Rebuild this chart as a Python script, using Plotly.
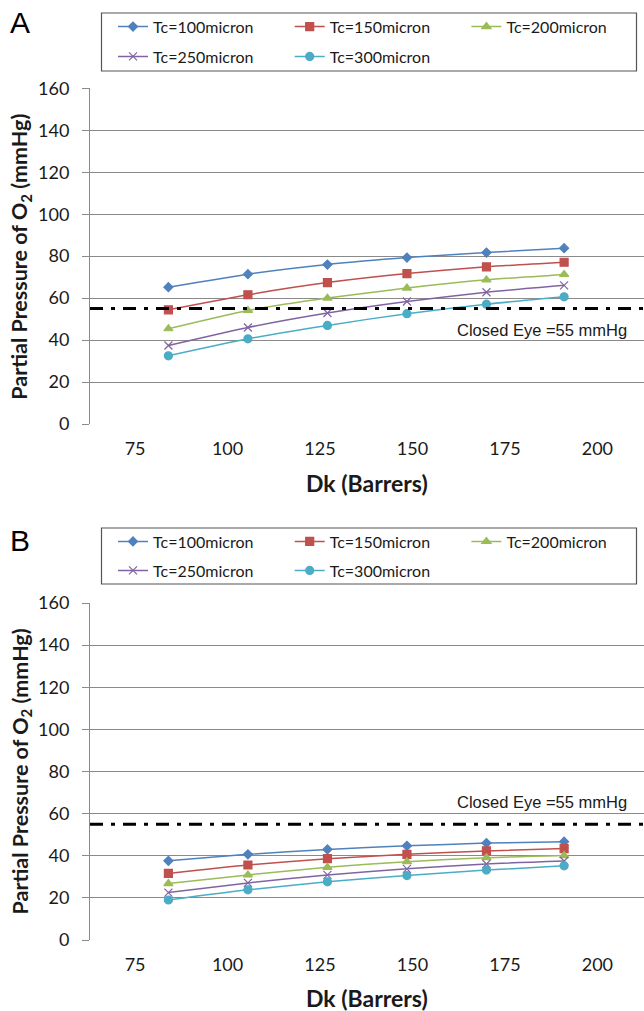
import plotly.graph_objects as go

dk = [84, 105.5, 127, 148.5, 170, 191]
names = ["Tc=100micron", "Tc=150micron", "Tc=200micron", "Tc=250micron", "Tc=300micron"]
colors = ["#4F81BD", "#C0504D", "#9BBB59", "#8064A2", "#4BACC6"]
symbols = ["diamond", "square", "triangle-up", "x-thin-open", "circle"]
sizes = [7, 8, 8, 8, 8]

po2_a = [
    [65.2, 71.4, 76.0, 79.3, 81.7, 83.8],
    [54.4, 61.6, 67.4, 71.7, 74.9, 77.1],
    [45.4, 54.1, 60.0, 64.8, 68.7, 71.3],
    [37.4, 46.0, 52.9, 58.4, 62.8, 66.1],
    [32.5, 40.6, 47.0, 52.6, 57.1, 60.6],
]
po2_b = [
    [37.6, 40.7, 43.0, 44.7, 46.0, 46.7],
    [31.6, 35.6, 38.6, 40.7, 42.3, 43.4],
    [26.8, 30.9, 34.5, 37.2, 39.1, 40.1],
    [22.5, 27.1, 30.9, 33.8, 36.1, 37.5],
    [19.0, 23.8, 27.6, 30.6, 33.2, 35.2],
]
closed_eye = 55
yticks = [0, 20, 40, 60, 80, 100, 120, 140, 160]
xticks = [75, 100, 125, 150, 175, 200]
xrange_ = [62.8, 212.6]

W, H = 644, 1011
def px(y):
    return 1 - y / H

FONT = "Lato"
fig = go.Figure()

# legend entry grid (px): columns and rows for each panel
leg_cols = [113, 289.7, 466.4, 113, 289.7]
leg_rows_a = [26.7, 26.7, 26.7, 56.5, 56.5]
leg_rows_b = [541.5, 541.5, 541.5, 570.5, 570.5]

legend_layout = {}
k = 0
for p, (data, xa, ya, rows) in enumerate([(po2_a, "x", "y", leg_rows_a), (po2_b, "x2", "y2", leg_rows_b)]):
    for i, vals in enumerate(data):
        k += 1
        lid = "legend" if k == 1 else "legend%d" % k
        legend_layout[lid] = dict(x=leg_cols[i] / W, xanchor="left", y=px(rows[i]), yanchor="middle",
                                  orientation="h", itemwidth=30, bgcolor="rgba(0,0,0,0)",
                                  font=dict(family=FONT, size=16, color="#1a1a1a"))
        fig.add_trace(go.Scatter(
            x=dk, y=vals, name=names[i], mode="lines+markers",
            line=dict(color=colors[i], width=1.5, shape="spline", smoothing=0.6),
            marker=dict(symbol=symbols[i], size=sizes[i], color=colors[i],
                        line=dict(color=colors[i], width=1.2)),
            xaxis=xa, yaxis=ya, legend=lid,
        ))
    fig.add_trace(go.Scatter(
        x=xrange_, y=[closed_eye, closed_eye], mode="lines",
        line=dict(color="black", width=3, dash="13px,8px,4px,8px"),
        xaxis=xa, yaxis=ya, showlegend=False, hoverinfo="skip",
    ))

axis_common_y = dict(range=[0, 160], tickvals=yticks, showgrid=True, gridcolor="#8a8a8a", gridwidth=1,
                     showline=True, linecolor="#8a8a8a", linewidth=1, ticks="outside", ticklen=7,
                     tickcolor="#8a8a8a", zeroline=False, ticklabelstandoff=9,
                     tickfont=dict(family=FONT, size=18, color="#1a1a1a"))
axis_common_x = dict(range=xrange_, tickvals=xticks, showgrid=False, showline=False, zeroline=False,
                     ticks="", ticklabelstandoff=12,
                     tickfont=dict(family=FONT, size=18, color="#1a1a1a"))

fig.update_layout(
    width=W, height=H, margin=dict(l=0, r=0, t=0, b=0, autoexpand=False),
    paper_bgcolor="white", plot_bgcolor="white",
    xaxis=dict(domain=[90 / W, 1], anchor="y", **axis_common_x),
    yaxis=dict(domain=[px(424), px(88.3)], anchor="x", **axis_common_y),
    xaxis2=dict(domain=[90 / W, 1], anchor="y2", **axis_common_x),
    yaxis2=dict(domain=[px(940), px(603)], anchor="x2", **axis_common_y),
    showlegend=True,
    **legend_layout,
)

shapes = []
for y0, y1 in [(13, 71), (528, 584)]:
    shapes.append(dict(type="rect", xref="paper", yref="paper", x0=101.5 / W, x1=636.5 / W,
                       y0=px(y1), y1=px(y0), line=dict(color="#555555", width=1.2)))
fig.update_layout(shapes=shapes)

ann = []
ann.append(dict(text="A", x=20 / W, y=px(22), xref="paper", yref="paper", xanchor="center", yanchor="middle",
                showarrow=False, font=dict(family="Liberation Sans", size=30, color="black")))
ann.append(dict(text="B", x=20 / W, y=px(540), xref="paper", yref="paper", xanchor="center", yanchor="middle",
                showarrow=False, font=dict(family="Liberation Sans", size=30, color="black")))
ytitle = "Partial Pressure of O<sub>2</sub> (mmHg)"
for yc in [256.7, 771.4]:
    ann.append(dict(text="<b>" + ytitle + "</b>", x=21 / W, y=px(yc), xref="paper", yref="paper",
                    textangle=-90, showarrow=False, xanchor="center", yanchor="middle",
                    font=dict(family=FONT, size=21.5, color="#1a1a1a")))
for yc in [483, 997.5]:
    ann.append(dict(text="<b>Dk (Barrers)</b>", x=367 / W, y=px(yc), xref="paper", yref="paper",
                    showarrow=False, xanchor="center", yanchor="middle",
                    font=dict(family=FONT, size=23, color="#1a1a1a")))
for yc in [330, 801.5]:
    ann.append(dict(text="Closed Eye =55 mmHg", x=629 / W, y=px(yc), xref="paper", yref="paper",
                    showarrow=False, xanchor="right", yanchor="middle",
                    font=dict(family="Liberation Sans", size=16.5, color="#1a1a1a")))
fig.update_layout(annotations=ann)

fig.write_html("out.html")
